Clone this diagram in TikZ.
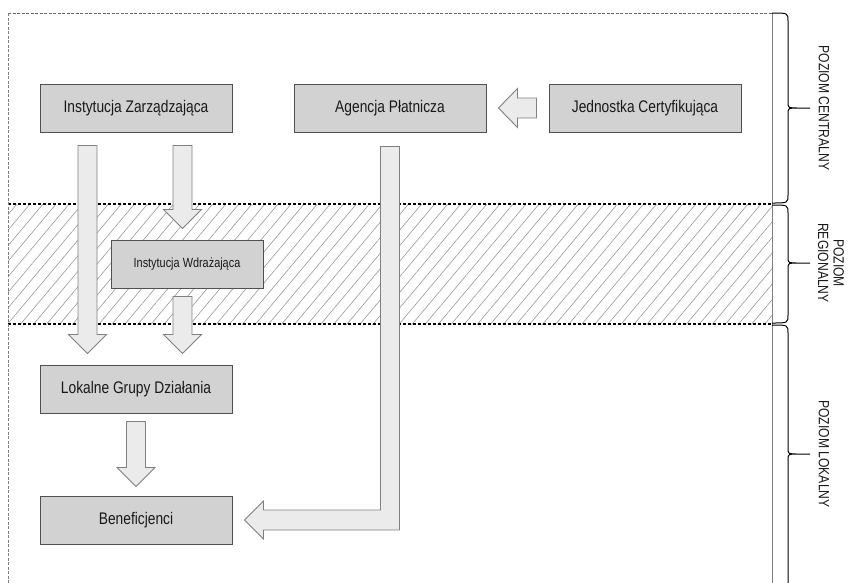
\documentclass[tikz,border=0pt]{standalone}
\usepackage{fontspec}
\setmainfont{Liberation Sans}[FakeStretch=0.82]
\usetikzlibrary{calc, patterns.meta}
\definecolor{boxgray}{HTML}{D2D2D2}
\definecolor{arrowgray}{HTML}{EBEBEB}
\definecolor{edgegray}{HTML}{505050}

\tikzset{
    levelbox/.style={draw=edgegray, line width=1pt, fill=boxgray, text=black!90,
        minimum width=192pt, minimum height=48pt, inner sep=0pt,
        font=\fontsize{16.8}{19}\selectfont},
    fatarrow/.style={draw=gray, line width=0.9pt, fill=arrowgray},
    bandline/.style={line width=1.2pt, dash pattern=on 3pt off 2pt},
    framedash/.style={draw=black!60, line width=0.9pt, dash pattern=on 3pt off 1.5pt},
    levelbrace/.style={line width=1pt},
    levellabel/.style={rotate=-90, align=center, text=black!90,
        font=\fontsize{14.8}{15.5}\selectfont}
}

% vertical block arrow: start point, tip point
\newcommand\fatdown[2]{%
    \path[fatarrow] let \p1=(#1), \p2=(#2) in
        (\x1-9.5,\y1) -- (\x1+9.5,\y1) -- (\x1+9.5,\y2+19) -- (\x1+19,\y2+19)
        -- (\x2,\y2) -- (\x1-19,\y2+19) -- (\x1-9.5,\y2+19) -- cycle;}
% brace on the right: top y, bottom y, middle y
\newcommand\sidebrace[3]{%
    \draw[levelbrace] (772,#1) .. controls (788,#1) .. (788,#1+8) -- (788,#3-6)
        .. controls (788,#3) .. (798,#3) -- (810,#3)
        (798,#3) .. controls (788,#3) .. (788,#3+6) -- (788,#2-8)
        .. controls (788,#2) .. (772,#2);}

\begin{document}
\begin{tikzpicture}[x=1pt, y=-1pt]
    \clip (0,0) rectangle (849,582);
    \fill[white] (0,0) rectangle (849,582);

    % Regional band
    \fill[pattern={Lines[angle=50, distance=10pt, line width=0.6pt]}, pattern color=gray!80]
        (8,204) rectangle (772,324);
    \draw[bandline] (8,204) -- (772,204);
    \draw[bandline] (8,324) -- (772,324);

    % Frame
    \draw[framedash] (8,13) -- (772,13);
    \draw[framedash, draw=gray] (8,13) -- (8,590);
    \draw[gray, line width=1pt] (772,13) -- (772,590);

    % Boxes
    \node[levelbox] (iz) at (136,108) {Instytucja Zarządzająca};
    \node[levelbox] (ap) at (390,108) {Agencja Płatnicza};
    \node[levelbox] (jc) at (645,108) {Jednostka Certyfikująca};
    \node[levelbox, minimum width=152pt, font=\fontsize{13.3}{15}\selectfont]
        (iw) at (187,264) {Instytucja Wdrażająca};
    \node[levelbox] (lgd) at (136,389) {Lokalne Grupy Działania};
    \node[levelbox] (ben) at (136,520) {Beneficjenci};

    % Block arrows
    \fatdown{$(iz.south west)+(48,13)$}{$(lgd.north west)+(48,-11)$}
    \fatdown{$(iz.south west)+(143,13)$}{$(iw.north west)+(72,-11)$}
    \fatdown{$(iw.south west)+(72,8)$}{$(lgd.north west)+(143,-11)$}
    \fatdown{$(lgd.south)+(0,8)$}{$(ben.north)+(0,-9)$}
    \path[fatarrow] let \p1=($(jc.west)+(-12,0)$), \p2=($(ap.east)+(12,0)$) in
        (\x1,\y1-10) -- (\x1,\y1+10) -- (\x2+19,\y1+10) -- (\x2+19,\y1+19.5)
        -- (\x2,\y2) -- (\x2+19,\y1-19.5) -- (\x2+19,\y1-10) -- cycle;
    \path[fatarrow] let \p1=($(ap.south)+(0,14)$), \p2=($(ben.east)+(12,0)$) in
        (\x1-9.5,\y1) -- (\x1+9.5,\y1) -- (\x1+9.5,\y2-10) -- (\x2+19,\y2-10)
        -- (\x2+19,\y2-19) -- (\x2,\y2) -- (\x2+19,\y2+19) -- (\x2+19,\y2+10)
        -- (\x1-9.5,\y2+10) -- cycle;

    % Levels
    \sidebrace{13}{203}{108}
    \sidebrace{205}{323}{263}
    \sidebrace{325}{620}{454}
    \node[levellabel] (central) at (824,108) {POZIOM CENTRALNY};
    \node[levellabel] (regional) at (831,263) {POZIOM\\REGIONALNY};
    \node[levellabel] (local) at (824,454) {POZIOM LOKALNY};
\end{tikzpicture}
\end{document}
